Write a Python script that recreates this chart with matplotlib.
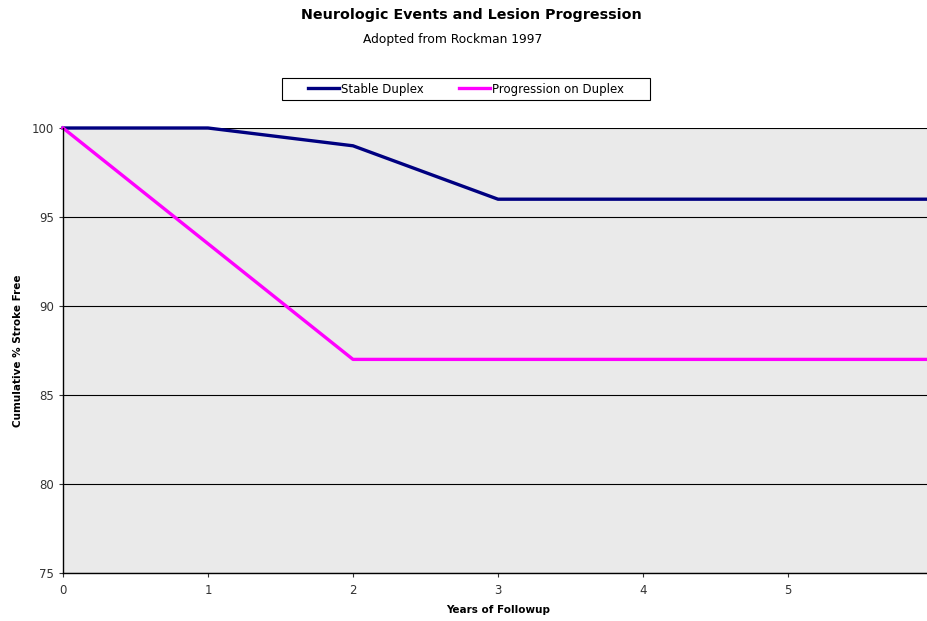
import matplotlib
matplotlib.use("Agg")
import matplotlib.pyplot as plt
from matplotlib.patches import Rectangle

# data
years = [0, 1, 2, 3, 4, 5, 6]
stable = [100, 100, 99, 96, 96, 96, 96]
progression = [100, 93.5, 87, 87, 87, 87, 87]
yticks = [75, 80, 85, 90, 95, 100]

plt.rcParams['font.family'] = ['DejaVu Sans']

W, H = 928, 621
fig = plt.figure(figsize=(W / 100, H / 100), dpi=100)
ax = fig.add_axes([63 / W, 48 / H, 870 / W, 445 / H])
ax.set_facecolor('#EAEAEA')

ax.plot(years, stable, color='#000080', lw=2.4, label='Stable Duplex', clip_on=False)
ax.plot(years, progression, color='#FF00FF', lw=2.4, label='Progression on Duplex', clip_on=False)

ax.set_xlim(0, 6)
ax.set_ylim(75, 100)
ax.set_xticks(years)
ax.set_yticks(yticks)
ax.yaxis.grid(True, color='#000000', lw=0.8)
ax.set_axisbelow(True)
ax.tick_params(labelsize=8.5, length=3, width=0.8, direction='out', colors='#333333')
ax.tick_params(axis='x', pad=5)
for side in ['top', 'right']:
    ax.spines[side].set_visible(False)
for side in ['left', 'bottom']:
    ax.spines[side].set_linewidth(1.0)

ax.set_xlabel('Years of Followup', fontsize=7.5, fontweight='bold', labelpad=6)
ax.set_ylabel('Cumulative % Stroke Free', fontsize=7.5, fontweight='bold', labelpad=6)

fig.text(471 / W, 1 - 15 / H, 'Neurologic Events and Lesion Progression', ha='center', va='center',
         fontsize=10.3, fontweight='bold')
fig.text(453 / W, 1 - 40 / H, 'Adopted from Rockman 1997', ha='center', va='center', fontsize=8.8)

# legend box drawn separately so the side padding can be wider than the vertical one
fig.patches.append(Rectangle((282 / W, 1 - 100 / H), 368 / W, 22 / H, transform=fig.transFigure,
                             facecolor='white', edgecolor='black', lw=0.8, zorder=0))
leg = fig.legend(loc='center', bbox_to_anchor=(466 / W, 1 - 89 / H), ncol=2, fontsize=8.5,
                 frameon=False, handlelength=2.6, handletextpad=0.15, columnspacing=3.0,
                 borderpad=0.3, borderaxespad=0)

fig.savefig('out.png', dpi=100)
